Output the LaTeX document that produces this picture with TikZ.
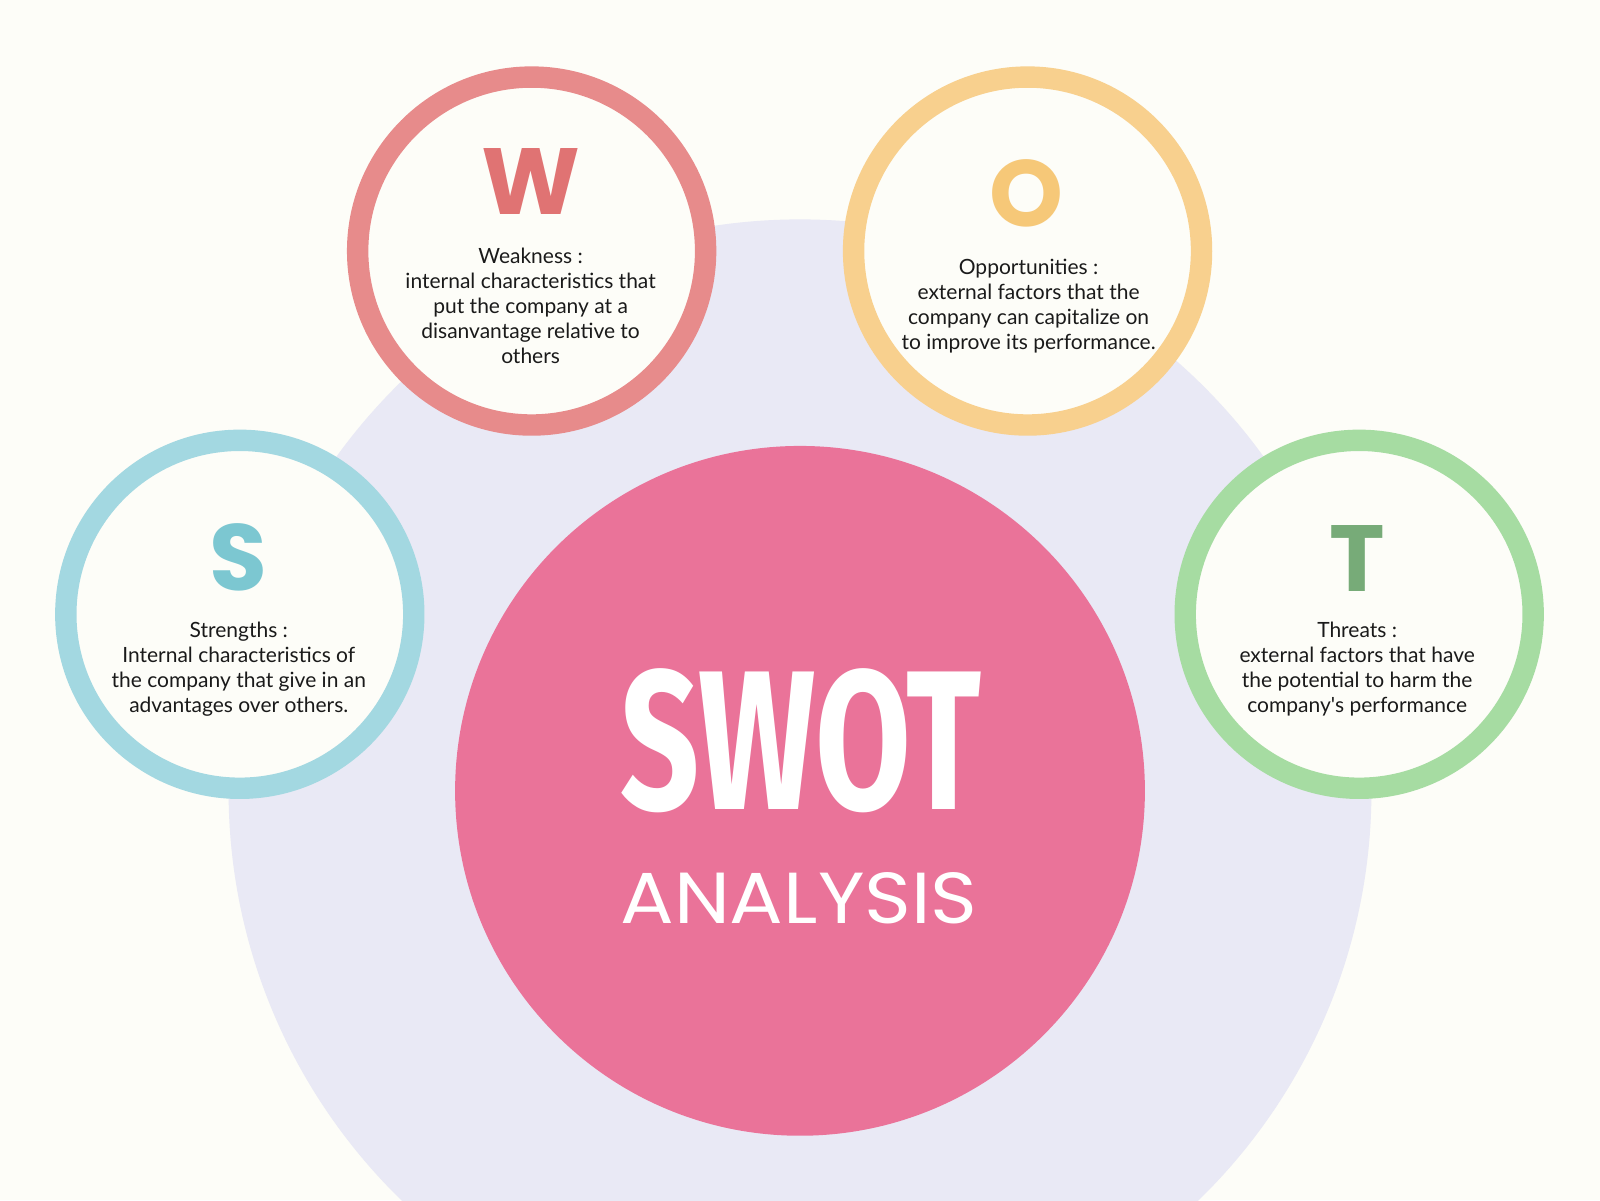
\documentclass[tikz,border=0pt]{standalone}
\usepackage{graphicx}
\usepackage{fontspec}
\setmainfont{Lato}
\newfontfamily\letterfont{Poppins}
\newfontfamily\titlefont{Fira Sans}
\definecolor{paper}{HTML}{FDFDF8}
\definecolor{lavender}{HTML}{E9E9F5}
\definecolor{swotpink}{HTML}{EA7399}
\definecolor{ink}{HTML}{1A1A1A}
\definecolor{wring}{HTML}{E78B8B}
\definecolor{wletter}{HTML}{E07373}
\definecolor{oring}{HTML}{F8D08E}
\definecolor{oletter}{HTML}{F6C878}
\definecolor{sring}{HTML}{A3D8E1}
\definecolor{sletter}{HTML}{7CC7D1}
\definecolor{tring}{HTML}{A6DCA2}
\definecolor{tletter}{HTML}{77AB78}
\tikzset{
  ring/.style={line width=10.7pt,fill=paper},
  letter/.style={inner sep=0pt,font=\letterfont\bfseries\fontsize{47}{47}\selectfont},
  blurb/.style={inner sep=0pt,align=center,text=ink,font=\fontsize{10.5}{12.5}\selectfont}
}
\begin{document}
\begin{tikzpicture}[x=0.5102pt,y=-0.5102pt]
  \useasboundingbox (0,0) rectangle (1568,1176);
  \fill[paper] (0,0) rectangle (1568,1176);
  % big backdrop and centre disc
  \begin{scope}
    \clip (0,0) rectangle (1568,1176);
    \fill[lavender] (784,775) circle (560);
  \end{scope}
  \fill[swotpink] (784,775) circle (338);
  % the four rings
  \draw[ring,draw=wring] (521,246) circle (170.5);
  \draw[ring,draw=oring] (1007,246) circle (170.5);
  \draw[ring,draw=sring] (235,602) circle (170.5);
  \draw[ring,draw=tring] (1332,602) circle (170.5);
  % letters
  \node[letter,text=wletter] (W) at (520,178) {W};
  \node[letter,text=oletter] (O) at (1006,189) {O};
  \node[letter,text=sletter] (S) at (234,546) {S};
  \node[letter,text=tletter] (T) at (1330,547) {T};
  % texts
  \node[blurb] (weakness) at (520,300) {Weakness :\\internal characteristics that\\put the company at a\\disanvantage relative to\\others};
  \node[blurb] (opportunities) at (1008,300) {Opportunities :\\external factors that the\\company can capitalize on\\to improve its performance.};
  \node[blurb] (strengths) at (234,656) {Strengths :\\Internal characteristics of\\the company that give in an\\advantages over others.};
  \node[blurb] (threats) at (1330,656) {Threats :\\external factors that have\\the potential to harm the\\company\textquotesingle s performance};
  % title
  \node[inner sep=0pt,text=white] (title) at (785,726) {\resizebox{180.6pt}{70.4pt}{\titlefont\bfseries SWOT}};
  \node[inner sep=0pt,text=white] (subtitle) at (783,880) {\resizebox{178.6pt}{25.5pt}{\letterfont ANALYSIS}};
\end{tikzpicture}
\end{document}
